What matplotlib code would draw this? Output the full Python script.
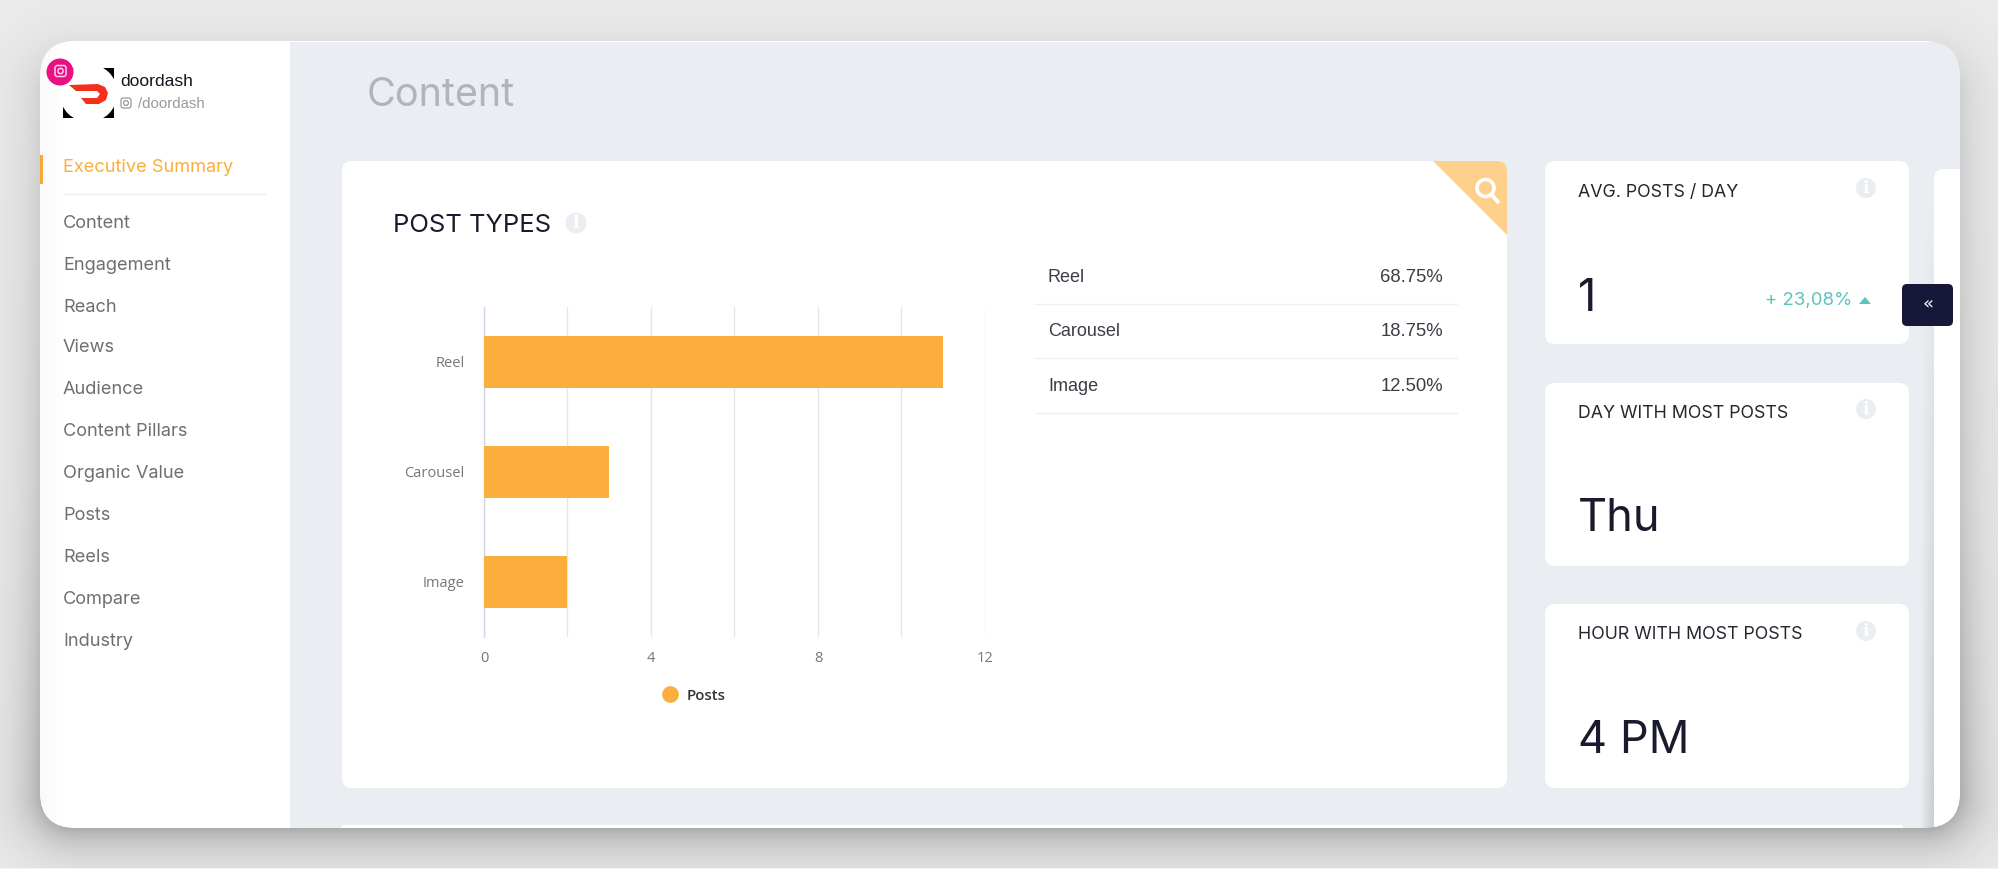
import numpy as np
import matplotlib
matplotlib.use("Agg")
import matplotlib.pyplot as plt
from matplotlib.patches import FancyBboxPatch, Circle, Polygon, Rectangle
from matplotlib.lines import Line2D

W, H = 1999, 869

# chart data
post_types = ["Reel", "Carousel", "Image"]
post_counts = [11, 3, 2]
post_shares = ["68.75%", "18.75%", "12.50%"]
x_ticks = [0, 2, 4, 6, 8, 10, 12]
x_tick_labels = ["0", "", "4", "", "8", "", "12"]

nav_items = ["Content", "Engagement", "Reach", "Views", "Audience", "Content Pillars",
             "Organic Value", "Posts", "Reels", "Compare", "Industry"]
nav_rows = [222, 264, 306, 347, 389, 431, 473, 515, 556, 598, 640]

stat_titles = ["AVG. POSTS / DAY", "DAY WITH MOST POSTS", "HOUR WITH MOST POSTS"]
stat_values = ["1", "Thu", "4 PM"]
stat_change = "+ 23,08%"

ORANGE = "#fbae3c"
PAGE = "#eaedf2"
INK = "#1a1a2e"
UI_FONT = "Inter"
CHART_FONT = "Open Sans"
PLAIN_FONT = "Liberation Sans"

fig = plt.figure(figsize=(W / 100, H / 100), dpi=100, facecolor="#ebebeb")
bg = fig.add_axes([0, 0, 1, 1])
bg.set_xlim(0, W)
bg.set_ylim(H, 0)
bg.axis("off")

# soft shadow under the window, from the distance to a rounded rectangle
yy, xx = np.mgrid[0:H, 0:W]
qx = np.abs(xx - 1000) - (960 - 36)
qy = np.abs(yy - 444) - (384 - 36)
dist = np.hypot(np.maximum(qx, 0), np.maximum(qy, 0)) + np.minimum(np.maximum(qx, qy), 0) - 36
strength = np.interp(yy, [0, 500, 830, 869], [0.10, 0.16, 0.27, 0.27])
img = np.zeros((H, W, 4))
img[..., 3] = strength * np.exp(-np.maximum(dist, 0) / 24.0)
bg.imshow(img, extent=(0, W, H, 0), interpolation="bilinear", zorder=0, aspect="auto")


def gradient(x0, x1, y0, y1, a0, a1, z, fade_top=False):
    strip = np.zeros((64, 32, 4))
    strip[..., 3] = np.linspace(a0, a1, 32)
    if fade_top:
        strip[..., 3] *= np.linspace(0.0, 1.0, 64)[:, None]
    return bg.imshow(strip, extent=(x0, x1, y1, y0), interpolation="bilinear", aspect="auto", zorder=z)


def card(x0, y0, x1, y1, r=10, color="white", z=3, **kw):
    p = FancyBboxPatch((x0, y0), x1 - x0, y1 - y0, boxstyle=f"round,pad=0,rounding_size={r}",
                       fc=color, ec="none", zorder=z, **kw)
    bg.add_patch(p)
    return p


def info_icon(x, y, r=10):
    bg.add_patch(Circle((x, y), r, fc=PAGE, ec="none", zorder=5))
    bg.text(x, y + 0.5, "i", color="white", fontsize=r * 1.25, fontweight="bold", family="DejaVu Serif",
            ha="center", va="center", zorder=6)


def insta_icon(x, y, s, color, lw):
    bg.add_patch(FancyBboxPatch((x - s, y - s), 2 * s, 2 * s, boxstyle=f"round,pad=0,rounding_size={s * 0.45}",
                                fc="none", ec=color, lw=lw, zorder=9))
    bg.add_patch(Circle((x, y), s * 0.48, fc="none", ec=color, lw=lw, zorder=9))


# window
window = card(40, 41, 1960, 828, r=36, color=PAGE, z=1)
clipped = [
    Rectangle((40, 41), 250.5, 790, fc="white", ec="none", zorder=2),
    Rectangle((342, 825), 1561, 10, fc="white", ec="none", zorder=2),
    Rectangle((40, 39), 1920, 3, fc="white", ec="none", zorder=2),
    Rectangle((40, 155), 3, 29, fc="#f5a93a", ec="none", zorder=4),
]
for p in clipped:
    bg.add_patch(p)
    p.set_clip_path(window)
panel = card(1934, 169, 1990, 900, r=10, z=2)
panel.set_clip_path(window)
panel_shadow = gradient(1920, 1934, 169, 828, 0.0, 0.14, 1.5, fade_top=True)
panel_shadow.set_clip_path(window)
side_shadow = gradient(40, 70, 41, 828, 0.025, 0.0, 2.5)
side_shadow.set_clip_path(window)
bg.add_patch(Rectangle((0, 867.5), W, 2, fc="#f4f4f4", ec="none", zorder=1))
bg.set_xlim(0, W)
bg.set_ylim(H, 0)

# profile block
bg.add_patch(Rectangle((63, 68), 51, 50, fc="black", ec="none", zorder=4))
bg.add_patch(Circle((88.5, 93), 29, fc="white", ec="none", zorder=5))
bg.add_patch(Polygon([(69, 85), (98, 84), (105, 87), (108, 93), (106, 100), (99, 104), (86, 104), (81, 98),
                      (97, 98), (100, 94), (97, 91), (76, 91)], closed=True, fc="#f2301b", ec="none", zorder=6))
bg.add_patch(Circle((60, 72), 13.5, fc="#ea0f83", ec="none", zorder=8))
insta_icon(60.5, 71, 5.5, "#fbd0e6", 1.1)
bg.text(120, 82, "doordash", family=PLAIN_FONT, fontsize=12.6, color="#15151f", va="center", zorder=7)
insta_icon(126, 103, 5, "#8c8c8c", 0.8)
bg.text(138, 104, "/doordash", family=PLAIN_FONT, fontsize=10.8, color="#9a9a9a", va="center", zorder=7)

# sidebar
bg.text(63, 168, "Executive Summary", family=UI_FONT, fontsize=13.1, color="#fbae3c", va="center", zorder=5)
bg.plot([63, 265], [194, 194], color="#eeeeee", lw=1, zorder=5)
for label, y in zip(nav_items, nav_rows):
    bg.text(63, y + 1, label, family=UI_FONT, fontsize=13.1, color="#6f6f6f", va="center", zorder=5)

bg.text(367, 96, "Content", family=UI_FONT, fontsize=28.5, color="#b0b3c0", va="center", zorder=5)

# main card
main = card(342, 161, 1507, 788, z=3)
corner = Polygon([(1433, 161), (1507, 161), (1507, 235)], closed=True, fc="#fdd08c", ec="none", zorder=4)
bg.add_patch(corner)
corner.set_clip_path(main)
bg.add_patch(Circle((1485.5, 188), 8.5, fc="none", ec="white", lw=2.6, zorder=5))
bg.plot([1492, 1498], [195, 202], color="white", lw=2.8, solid_capstyle="round", zorder=5)
bg.text(393, 225, "POST TYPES", family=UI_FONT, fontsize=18.4, color=INK, va="center", zorder=5)
info_icon(576, 223, 10.5)

# share table
row_y = [277, 331.5, 386.5]
rule_y = [304, 358, 413]
for name, share, y, ry in zip(post_types, post_shares, row_y, rule_y):
    bg.text(1048, y, name, family=PLAIN_FONT, fontsize=13, color="#3c3c46", va="center", zorder=5)
    bg.text(1443, y, share, family=PLAIN_FONT, fontsize=13.3, color="#3c3c46", va="center", ha="right", zorder=5)
    bg.plot([1035, 1457], [ry, ry], color="#f0f0f3", lw=1, zorder=5)

# stat cards
boxes = [(161, 344), (383, 566), (604, 788)]
title_y = [192.5, 413, 634.5]
value_y = [299, 519, 741]
info_y = [188, 409, 631]
for title, value, (y0, y1), ty, vy, iy in zip(stat_titles, stat_values, boxes, title_y, value_y, info_y):
    card(1545, y0, 1909, y1, z=3)
    bg.text(1578, ty, title, family=UI_FONT, fontsize=12.8, color="#26262f", va="center", zorder=5)
    bg.text(1578, vy, value, family=UI_FONT, fontsize=32.5, color=INK, va="center", zorder=5)
    info_icon(1866, iy, 10)
bg.text(1852, 301, stat_change, family=UI_FONT, fontsize=13.4, color="#5cc4bd", va="center", ha="right", zorder=5)
bg.add_patch(Polygon([(1859, 304), (1871, 304), (1865, 297)], closed=True, fc="#5cc4bd", ec="none", zorder=5))

# collapse button
card(1902, 284, 1953, 326, r=5, color="#17173a", z=6)
bg.text(1928, 304, "«", family="DejaVu Sans", fontsize=13, color="white", ha="center", va="center", zorder=7)

# bar chart
ax = fig.add_axes([484 / W, 1 - 636.7 / H, (985 - 484) / W, 330 / H], facecolor="none")
y_pos = np.arange(len(post_types))
ax.barh(y_pos, post_counts, height=0.473, color=ORANGE, zorder=3)
ax.set_xlim(0, 12)
ax.set_ylim(len(post_types) - 0.5, -0.5)
ax.set_xticks(x_ticks)
ax.set_xticklabels(x_tick_labels, family=CHART_FONT, fontsize=10.5, color="#777777")
ax.set_yticks(y_pos)
ax.set_yticklabels(post_types, family=CHART_FONT, fontsize=10.5, color="#777777")
ax.tick_params(length=0)
ax.tick_params(axis="x", pad=10)
ax.tick_params(axis="y", pad=14)
ax.grid(axis="x", color="#e6e6e6", lw=1, zorder=0)
for side in ["top", "right", "bottom"]:
    ax.spines[side].set_visible(False)
ax.spines["left"].set_color("#ccd6eb")
ax.spines["left"].set_linewidth(1)

handle = Line2D([], [], marker="o", linestyle="none", color=ORANGE, markersize=11)
leg = ax.legend([handle], ["Posts"], loc="center", bbox_to_anchor=((690 - 484) / (985 - 484), -59 / 330),
                frameon=False, handletextpad=0.1,
                prop={"family": CHART_FONT, "size": 10.8, "weight": "semibold"})
leg.get_texts()[0].set_color("#333333")

fig.savefig("out.png", dpi=100, facecolor=fig.get_facecolor())
